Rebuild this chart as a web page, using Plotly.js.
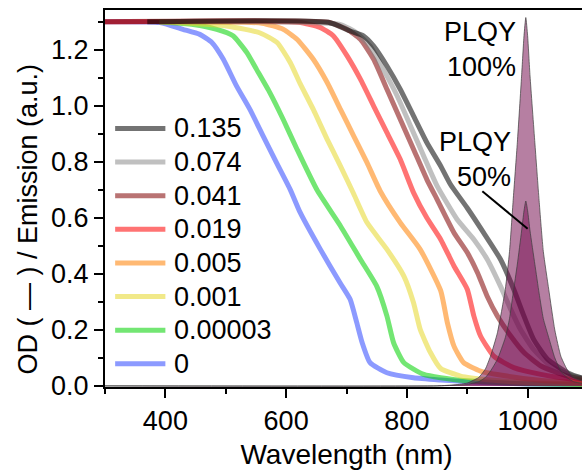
<!DOCTYPE html>
<html>
<head>
<meta charset="utf-8">
<script src="https://cdn.plot.ly/plotly-3.0.1.min.js"></script>
<style>
  html, body { margin: 0; padding: 0; overflow: hidden; background: #fff; }
  #chart { width: 588px; height: 470px; }
</style>
</head>
<body>
<div id="chart"></div>
<script>
// ---- Data ----
const labels = ['0.135', '0.074', '0.041', '0.019', '0.005', '0.001', '0.00003', '0'];

const wl_0135 = [370, 670, 706, 728, 745, 767, 789, 811, 833, 856, 872, 900, 927, 955, 977, 994, 1010, 1033, 1066, 1088, 1100];
const od_0135 = [1.3, 1.298, 1.267, 1.25, 1.213, 1.142, 1.059, 0.964, 0.869, 0.785, 0.72, 0.635, 0.547, 0.452, 0.345, 0.249, 0.166, 0.095, 0.047, 0.029, 0.025];

const wl_0074 = [390, 690, 717, 739, 761, 784, 806, 828, 850, 883, 911, 933, 955, 972, 988, 1010, 1038, 1076, 1100];
const od_0074 = [1.3, 1.29, 1.26, 1.213, 1.13, 1.035, 0.928, 0.82, 0.714, 0.595, 0.523, 0.452, 0.356, 0.273, 0.202, 0.13, 0.071, 0.035, 0.025];

const wl_0041 = [300, 670, 701, 723, 745, 767, 789, 811, 833, 850, 878, 900, 917, 933, 950, 972, 994, 1022, 1066, 1100];
const od_0041 = [1.3, 1.298, 1.273, 1.2375, 1.166, 1.059, 0.952, 0.845, 0.7375, 0.666, 0.547, 0.476, 0.404, 0.32, 0.249, 0.178, 0.119, 0.071, 0.035, 0.022];

const wl_0019 = [300, 620, 656, 678, 701, 723, 745, 767, 789, 811, 833, 856, 878, 900, 911, 922, 944, 977, 1022, 1076, 1100];
const od_0019 = [1.3, 1.298, 1.28, 1.25, 1.178, 1.095, 0.999, 0.904, 0.809, 0.69, 0.6, 0.523, 0.428, 0.345, 0.249, 0.178, 0.106, 0.065, 0.041, 0.023, 0.018];

const wl_0005 = [390, 560, 595, 618, 645, 668, 690, 712, 734, 756, 789, 822, 856, 867, 878, 894, 922, 966, 1020, 1100];
const od_0005 = [1.3, 1.295, 1.273, 1.2375, 1.166, 1.083, 0.987, 0.892, 0.797, 0.695, 0.583, 0.4875, 0.34, 0.226, 0.142, 0.083, 0.053, 0.035, 0.02, 0.01];

const wl_0001 = [390, 501, 557, 585, 607, 623, 645, 668, 690, 712, 734, 767, 795, 811, 822, 839, 856, 889, 939, 1000, 1100];
const od_0001 = [1.3, 1.285, 1.26, 1.226, 1.154, 1.08, 0.987, 0.88, 0.785, 0.685, 0.583, 0.4875, 0.392, 0.297, 0.202, 0.119, 0.062, 0.035, 0.021, 0.012, 0.006];

const wl_000003 = [390, 446, 485, 512, 535, 551, 573, 595, 618, 651, 690, 723, 750, 767, 778, 795, 828, 856, 900, 950, 1000, 1100];
const od_000003 = [1.3, 1.29, 1.273, 1.25, 1.19, 1.13, 1.047, 0.952, 0.845, 0.7, 0.571, 0.452, 0.356, 0.249, 0.154, 0.083, 0.041, 0.029, 0.018, 0.012, 0.008, 0.005];

const wl_0 = [300, 391, 429, 457, 477, 496, 518, 540, 562, 584, 607, 623, 656, 689, 706, 717, 726, 739, 767, 811, 856, 900, 950, 1000, 1100];
const od_0 = [1.3, 1.297, 1.273, 1.255, 1.226, 1.166, 1.07, 0.987, 0.892, 0.797, 0.7, 0.62, 0.49, 0.369, 0.309, 0.226, 0.154, 0.083, 0.047, 0.029, 0.021, 0.015, 0.01, 0.007, 0.005];

const wl_em = [300, 850, 880, 900, 910, 919, 930, 938.5, 950, 963, 970, 976, 983, 990, 994, 997, 1000, 1004, 1012, 1019, 1026, 1035, 1045, 1055, 1065, 1076, 1090, 1100];
const em_100 = [0, 0, 0.004, 0.01, 0.02, 0.03, 0.06, 0.106, 0.19, 0.344, 0.48, 0.662, 0.87, 1.106, 1.25, 1.315, 1.25, 1.106, 0.868, 0.662, 0.48, 0.344, 0.2, 0.106, 0.06, 0.03, 0.018, 0.012];
const em_50  = [0, 0, 0.002, 0.005, 0.01, 0.015, 0.03, 0.053, 0.095, 0.172, 0.24, 0.331, 0.435, 0.553, 0.625, 0.66, 0.625, 0.553, 0.434, 0.331, 0.24, 0.172, 0.1, 0.053, 0.03, 0.015, 0.009, 0.006];

const absX = [wl_0135, wl_0074, wl_0041, wl_0019, wl_0005, wl_0001, wl_000003, wl_0];
const absY = [od_0135, od_0074, od_0041, od_0019, od_0005, od_0001, od_000003, od_0];

// ---- Styles ----
const colors = ['rgba(0,0,0,0.55)', 'rgba(130,130,130,0.5)', 'rgba(128,0,0,0.55)', 'rgba(255,0,0,0.55)',
                'rgba(255,128,0,0.55)', 'rgba(230,215,40,0.55)', 'rgba(0,210,0,0.55)', 'rgba(0,30,255,0.45)'];
const FONT = 'Liberation Sans, Arial, sans-serif';
const FS = 27;

const traces = [];
for (let i = labels.length - 1; i >= 0; i--) {
  traces.push({
    type: 'scatter', mode: 'lines', name: labels[i],
    x: absX[i], y: absY[i],
    line: { color: colors[i], width: 5, shape: 'spline', smoothing: 0.5 },
    showlegend: false, hoverinfo: 'skip'
  });
}
traces.push({
  type: 'scatter', mode: 'lines', name: 'PLQY 100%',
  x: wl_em, y: em_100, fill: 'tozeroy', fillcolor: 'rgba(110,0,70,0.5)',
  line: { color: 'rgba(60,60,60,0.7)', width: 1, shape: 'spline', smoothing: 0.5 },
  showlegend: false, hoverinfo: 'skip'
});
traces.push({
  type: 'scatter', mode: 'lines', name: 'PLQY 50%',
  x: wl_em, y: em_50, fill: 'tozeroy', fillcolor: 'rgba(110,0,70,0.45)',
  line: { color: 'rgba(60,60,60,0.7)', width: 1, shape: 'spline', smoothing: 0.5 },
  showlegend: false, hoverinfo: 'skip'
});

// ---- Custom legend (line samples + labels) ----
const shapes = [];
const annotations = [];
const legTop = 0.686, legStep = 0.0892;
labels.forEach((lab, i) => {
  const yy = legTop - i * legStep;
  shapes.push({ type: 'line', xref: 'paper', yref: 'paper', x0: 0.021, x1: 0.125, y0: yy, y1: yy,
                line: { color: colors[i], width: 5 } });
  annotations.push({ xref: 'paper', yref: 'paper', x: 0.139, y: yy, xanchor: 'left', yanchor: 'middle',
                     text: lab, showarrow: false, font: { family: FONT, size: FS, color: '#000' } });
});

// pointer line for the 50% label
shapes.push({ type: 'line', xref: 'x', yref: 'y', x0: 925, y0: 0.695, x1: 1000, y1: 0.561,
              line: { color: '#000', width: 2 } });

annotations.push({ xref: 'x', yref: 'y', x: 984, y: 1.2, xanchor: 'right', yanchor: 'middle', align: 'right',
                   text: 'PLQY<br>100%', showarrow: false, font: { family: FONT, size: FS, color: '#000' } });
annotations.push({ xref: 'x', yref: 'y', x: 976, y: 0.81, xanchor: 'right', yanchor: 'middle', align: 'right',
                   text: 'PLQY<br>50%', showarrow: false, font: { family: FONT, size: FS, color: '#000' } });

// y-axis title
annotations.push({ xref: 'paper', yref: 'paper', x: -0.159, y: 0.445, xanchor: 'center', yanchor: 'middle',
                   textangle: -90, text: 'OD ( — ) / Emission (a.u.)', showarrow: false,
                   font: { family: FONT, size: FS, color: '#000' } });

const axisCommon = {
  showline: true, linewidth: 2, linecolor: '#000', mirror: true,
  ticks: 'outside', ticklen: 9, tickwidth: 2, tickcolor: '#000',
  showgrid: false, zeroline: false,
  tickfont: { family: FONT, size: FS, color: '#000' }
};

const layout = {
  width: 588, height: 470,
  margin: { l: 105, r: 0, t: 10, b: 83 },
  paper_bgcolor: '#fff', plot_bgcolor: '#fff',
  showlegend: false,
  xaxis: Object.assign({}, axisCommon, {
    range: [300, 1100], tick0: 0, dtick: 200,
    minor: { dtick: 100, ticks: 'outside', ticklen: 5, tickwidth: 2, tickcolor: '#000' },
    title: { text: 'Wavelength (nm)', font: { family: FONT, size: 28, color: '#000' }, standoff: 10 }
  }),
  yaxis: Object.assign({}, axisCommon, {
    range: [-0.004, 1.342], tick0: 0, dtick: 0.2, tickformat: '.1f',
    minor: { dtick: 0.1, ticks: 'outside', ticklen: 5, tickwidth: 2, tickcolor: '#000' }
  }),
  shapes: shapes,
  annotations: annotations
};

Plotly.newPlot('chart', traces, layout, { displayModeBar: false, staticPlot: true });
</script>
</body>
</html>
